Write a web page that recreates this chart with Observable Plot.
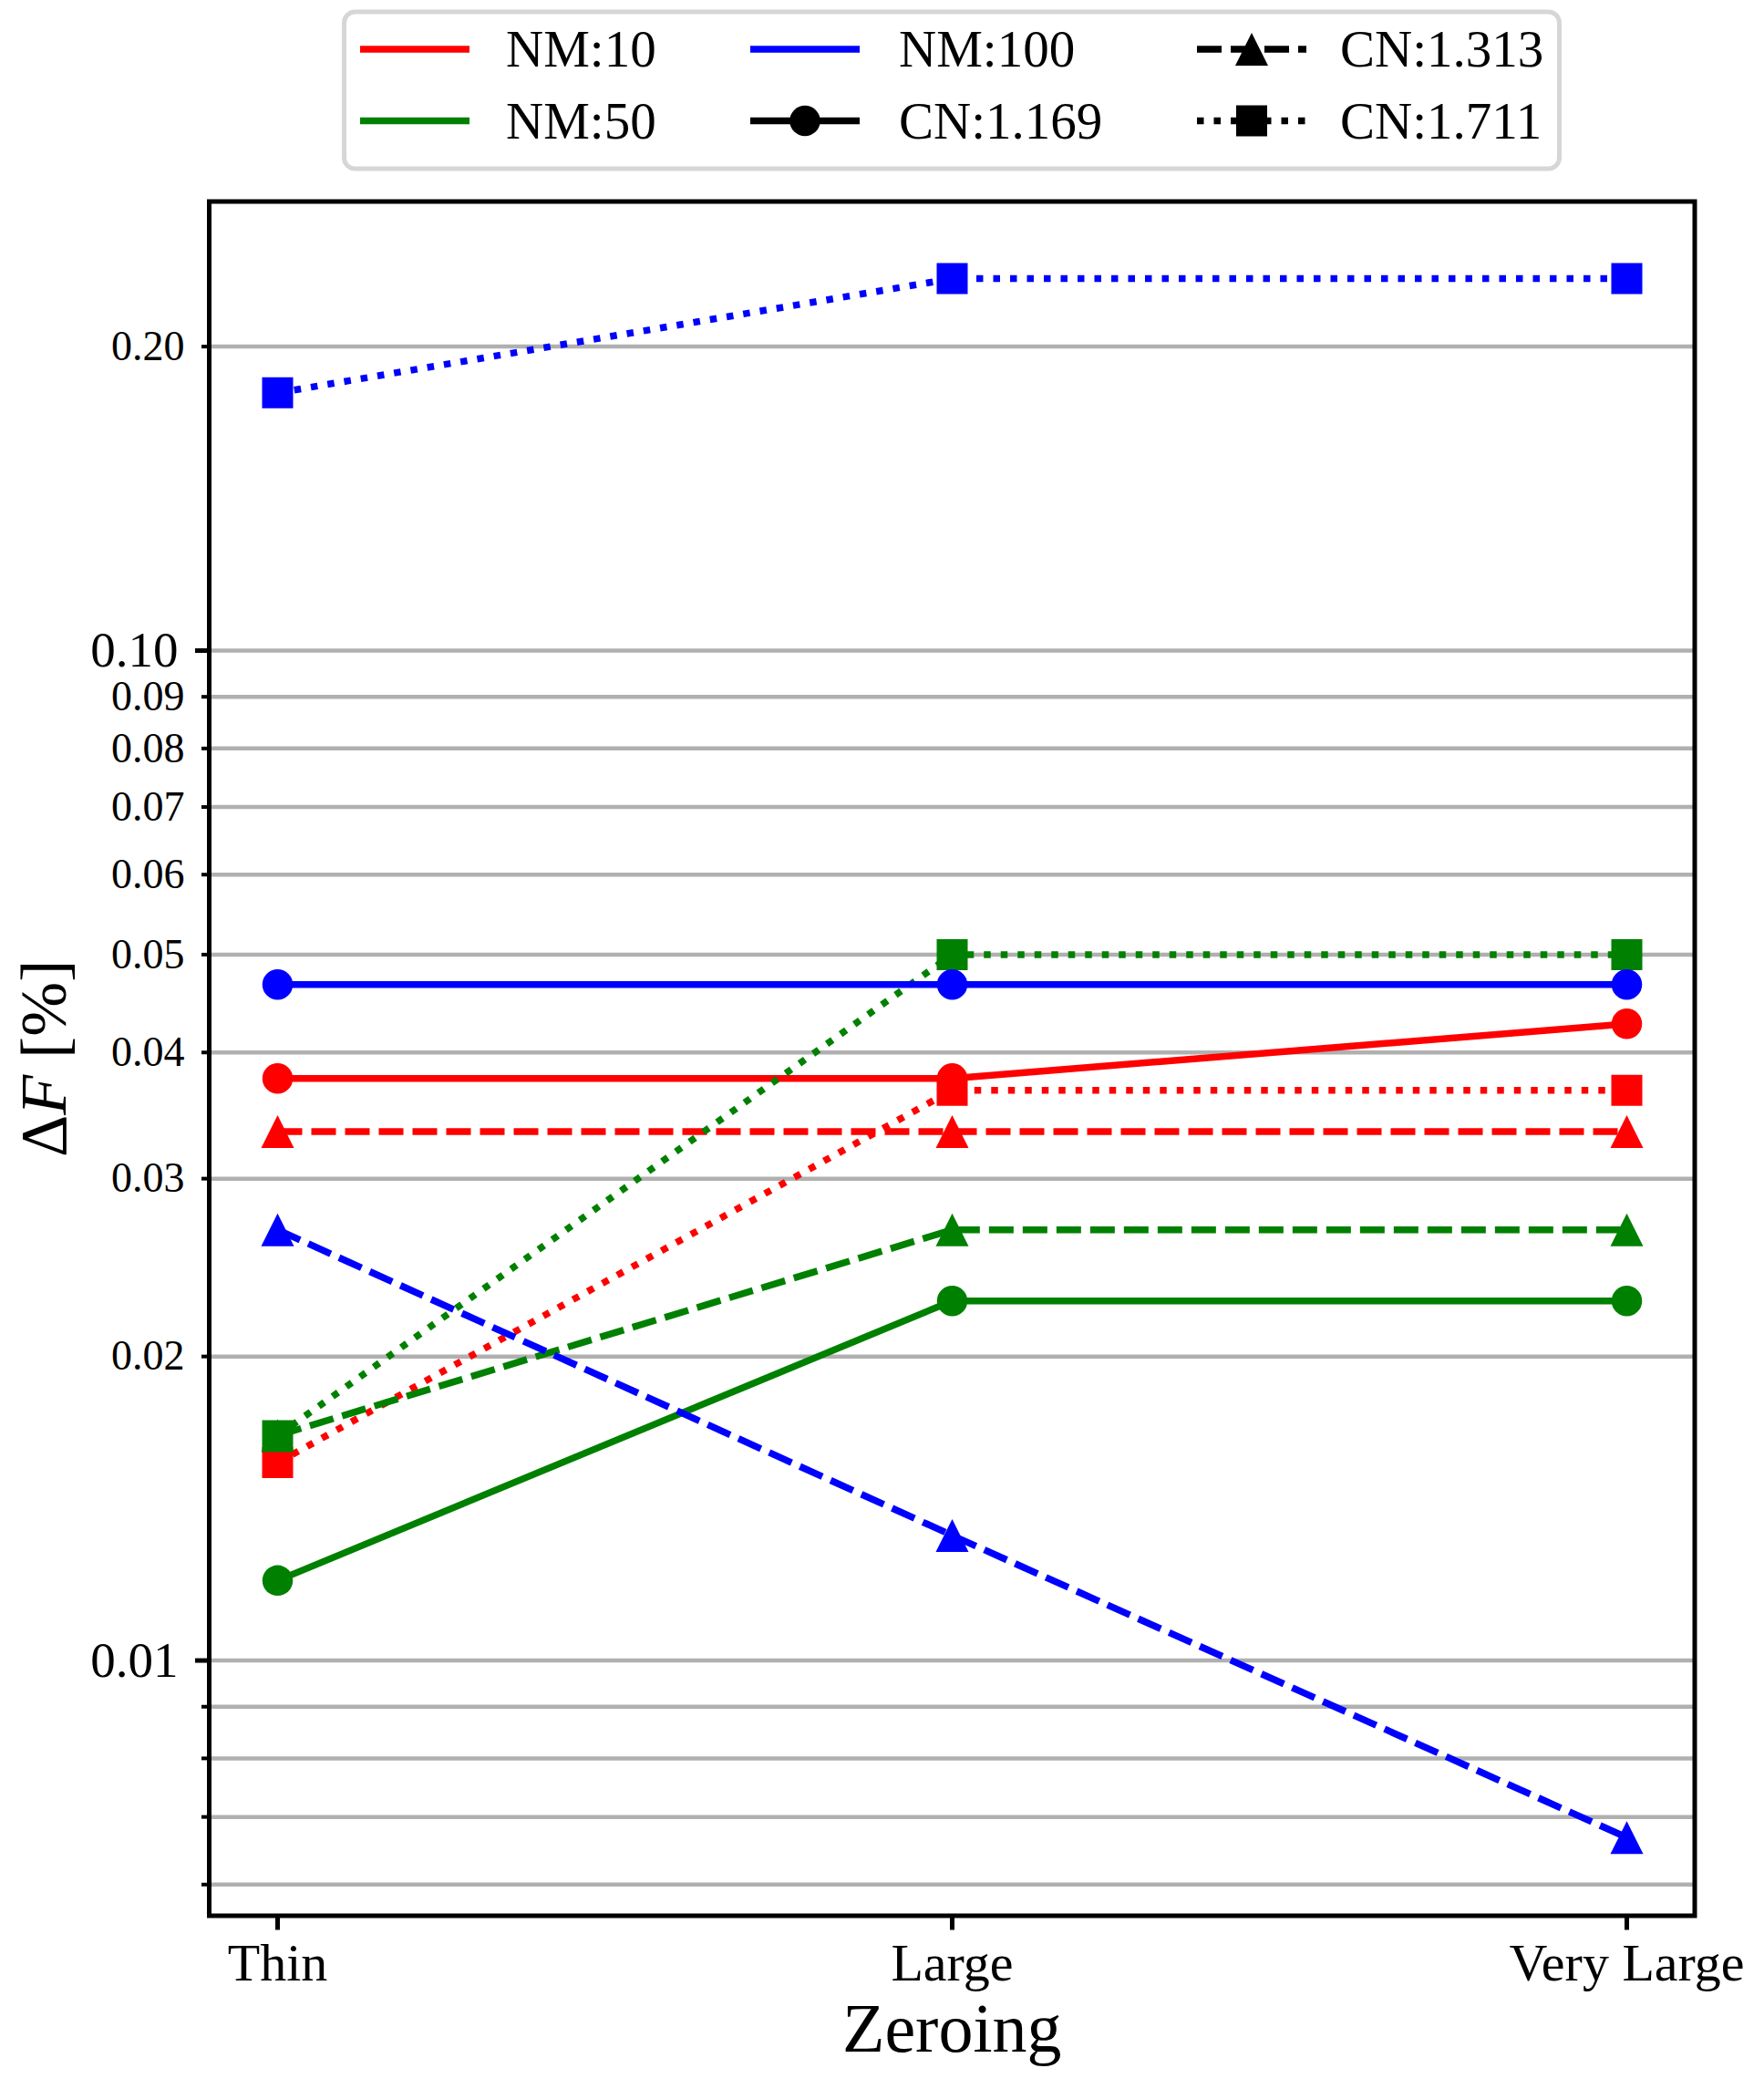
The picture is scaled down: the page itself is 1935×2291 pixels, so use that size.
<!DOCTYPE html>
<html>
<head>
<meta charset="utf-8">
<script src="https://cdn.jsdelivr.net/npm/d3@7"></script>
<script src="https://cdn.jsdelivr.net/npm/@observablehq/plot@0.6"></script>
<style>
html, body { margin: 0; padding: 0; background: #ffffff; }
#fig { position: relative; width: 1935px; height: 2291px; font-family: "Liberation Serif", serif; }
#legend { position: absolute; left: 0; top: 0; pointer-events: none; }
</style>
</head>
<body>
<div id="fig"></div>
<script>
// ---- data ----
const categories = ["Thin", "Large", "Very Large"];
const nmLabels = ["NM:10", "NM:50", "NM:100"];
const cnLabels = ["CN:1.169", "CN:1.313", "CN:1.711"];

const nm10_cn1169 = [0.0377, 0.0377, 0.0427];
const nm10_cn1313 = [0.0334, 0.0334, 0.0334];
const nm10_cn1711 = [0.0157, 0.0367, 0.0367];
const nm50_cn1169 = [0.0120, 0.0227, 0.0227];
const nm50_cn1313 = [0.0167, 0.0267, 0.0267];
const nm50_cn1711 = [0.0167, 0.0500, 0.0500];
const nm100_cn1169 = [0.0467, 0.0467, 0.0467];
const nm100_cn1313 = [0.0267, 0.0133, 0.00668];
const nm100_cn1711 = [0.180, 0.2335, 0.2335];

const yMajorTicks = [0.1, 0.01];
const yMinorLabeledTicks = [0.2, 0.09, 0.08, 0.07, 0.06, 0.05, 0.04, 0.03, 0.02];
const yMinorUnlabeledTicks = [0.009, 0.008, 0.007, 0.006];

const seriesValues = [
  [nm10_cn1169, nm10_cn1313, nm10_cn1711],
  [nm50_cn1169, nm50_cn1313, nm50_cn1711],
  [nm100_cn1169, nm100_cn1313, nm100_cn1711]
];

// ---- styles ----
const nmColors = ["#ff0000", "#008000", "#0000ff"];
const cnDash = [null, "27,10", "7.5,11"];
const mplTriangle = {
  draw(ctx, size) {
    const r = Math.sqrt(size / Math.PI);
    ctx.moveTo(0, -r); ctx.lineTo(r, r); ctx.lineTo(-r, r); ctx.closePath();
  }
};
const mplSquare = {
  draw(ctx, size) {
    const r = Math.sqrt(size / Math.PI);
    ctx.moveTo(-r, -r); ctx.lineTo(r, -r); ctx.lineTo(r, r); ctx.lineTo(-r, r); ctx.closePath();
  }
};
const cnSymbol = [d3.symbolCircle, mplTriangle, mplSquare];
const cnR = [16.75, 18, 17];
const LW = 7.5;
const FONT = "Liberation Serif";

// ---- marks ----
const gridValues = [...yMinorLabeledTicks, ...yMajorTicks, ...yMinorUnlabeledTicks];
const marks = [Plot.ruleY(gridValues, {stroke: "#b0b0b0", strokeWidth: 4.5})];

nmLabels.forEach((nm, i) => {
  cnLabels.forEach((cn, j) => {
    const data = categories.map((c, k) => ({zeroing: c, value: seriesValues[i][j][k], nm, cn}));
    const lineOpts = {x: "zeroing", y: "value", stroke: nmColors[i], strokeWidth: LW,
                      strokeLinejoin: "round", strokeLinecap: "butt"};
    if (cnDash[j]) lineOpts.strokeDasharray = cnDash[j];
    marks.push(Plot.line(data, lineOpts));
    marks.push(Plot.dot(data, {x: "zeroing", y: "value", symbol: cnSymbol[j], r: cnR[j],
                               fill: nmColors[i], stroke: "none"}));
  });
});

marks.push(Plot.frame({stroke: "black", strokeWidth: 5}));

marks.push(Plot.axisY(yMajorTicks, {tickSize: 15, tickPadding: 19, fontSize: 55, fontFamily: FONT,
  tickFormat: d3.format(".2f"), strokeWidth: 5, label: null}));
marks.push(Plot.axisY(yMinorLabeledTicks, {tickSize: 8, tickPadding: 19, fontSize: 46, fontFamily: FONT,
  tickFormat: d3.format(".2f"), strokeWidth: 4, label: null}));
marks.push(Plot.axisY(yMinorUnlabeledTicks, {tickSize: 8, tickPadding: 19, fontSize: 46, fontFamily: FONT,
  tickFormat: () => "", strokeWidth: 4, label: null}));
marks.push(Plot.axisX(categories, {tickSize: 16, tickPadding: 13.5, fontSize: 58, fontFamily: FONT,
  strokeWidth: 5, label: null}));

marks.push(Plot.text(["Zeroing"], {text: d => d, frameAnchor: "bottom", dy: 148.5, lineAnchor: "bottom",
  fontSize: 76, fontFamily: FONT}));
marks.push(Plot.text(["ΔF [%]"], {text: d => d, frameAnchor: "left", dx: -181, rotate: -90,
  lineAnchor: "middle", textAnchor: "middle", fontSize: 72, fontFamily: FONT}));

const svg = Plot.plot({
  width: 1935,
  height: 2291,
  marginLeft: 229,
  marginRight: 76.5,
  marginTop: 220.5,
  marginBottom: 190.5,
  x: {type: "point", domain: categories, padding: 0.1},
  y: {type: "log", domain: [0.005588, 0.2784]},
  style: {fontFamily: FONT, background: "#ffffff", color: "black"},
  marks
});

// italic F in the y label
d3.select(svg).selectAll("text").filter(function () { return this.textContent === "ΔF [%]"; })
  .each(function () {
    const t = d3.select(this);
    t.text(null);
    t.append("tspan").text("Δ");
    t.append("tspan").attr("font-style", "italic").text("F");
    t.append("tspan").text(" [%]");
  });

document.getElementById("fig").appendChild(svg);

// ---- legend ----
const legend = d3.select("#fig").append("svg").attr("id", "legend")
  .attr("width", 1935).attr("height", 200);
legend.append("rect").attr("x", 377.5).attr("y", 13).attr("width", 1333).attr("height", 172)
  .attr("rx", 12).attr("fill", "#ffffff").attr("stroke", "#d6d6d6").attr("stroke-width", 5);

const legendCols = [{x0: 395, x1: 515, tx: 555}, {x0: 823, x1: 943, tx: 986}, {x0: 1313, x1: 1433, tx: 1470}];
const legendRows = [54, 132.5];
const legendItems = [
  {label: nmLabels[0], color: nmColors[0], dash: null, sym: null, col: 0, row: 0},
  {label: nmLabels[1], color: nmColors[1], dash: null, sym: null, col: 0, row: 1},
  {label: nmLabels[2], color: nmColors[2], dash: null, sym: null, col: 1, row: 0},
  {label: cnLabels[0], color: "#000000", dash: cnDash[0], sym: 0, col: 1, row: 1},
  {label: cnLabels[1], color: "#000000", dash: cnDash[1], sym: 1, col: 2, row: 0},
  {label: cnLabels[2], color: "#000000", dash: cnDash[2], sym: 2, col: 2, row: 1}
];
legendItems.forEach(it => {
  const c = legendCols[it.col], y = legendRows[it.row];
  const ln = legend.append("line").attr("x1", c.x0).attr("x2", c.x1).attr("y1", y).attr("y2", y)
    .attr("stroke", it.color).attr("stroke-width", LW).attr("stroke-linecap", "butt");
  if (it.dash) ln.attr("stroke-dasharray", it.dash);
  if (it.sym !== null) {
    const r = cnR[it.sym];
    legend.append("path")
      .attr("d", d3.symbol().type(cnSymbol[it.sym]).size(Math.PI * r * r)())
      .attr("transform", `translate(${(c.x0 + c.x1) / 2},${y})`)
      .attr("fill", it.color);
  }
  legend.append("text").attr("x", c.tx).attr("y", y + 19)
    .attr("font-family", FONT).attr("font-size", 57).attr("fill", "#000").text(it.label);
});
</script>
</body>
</html>
